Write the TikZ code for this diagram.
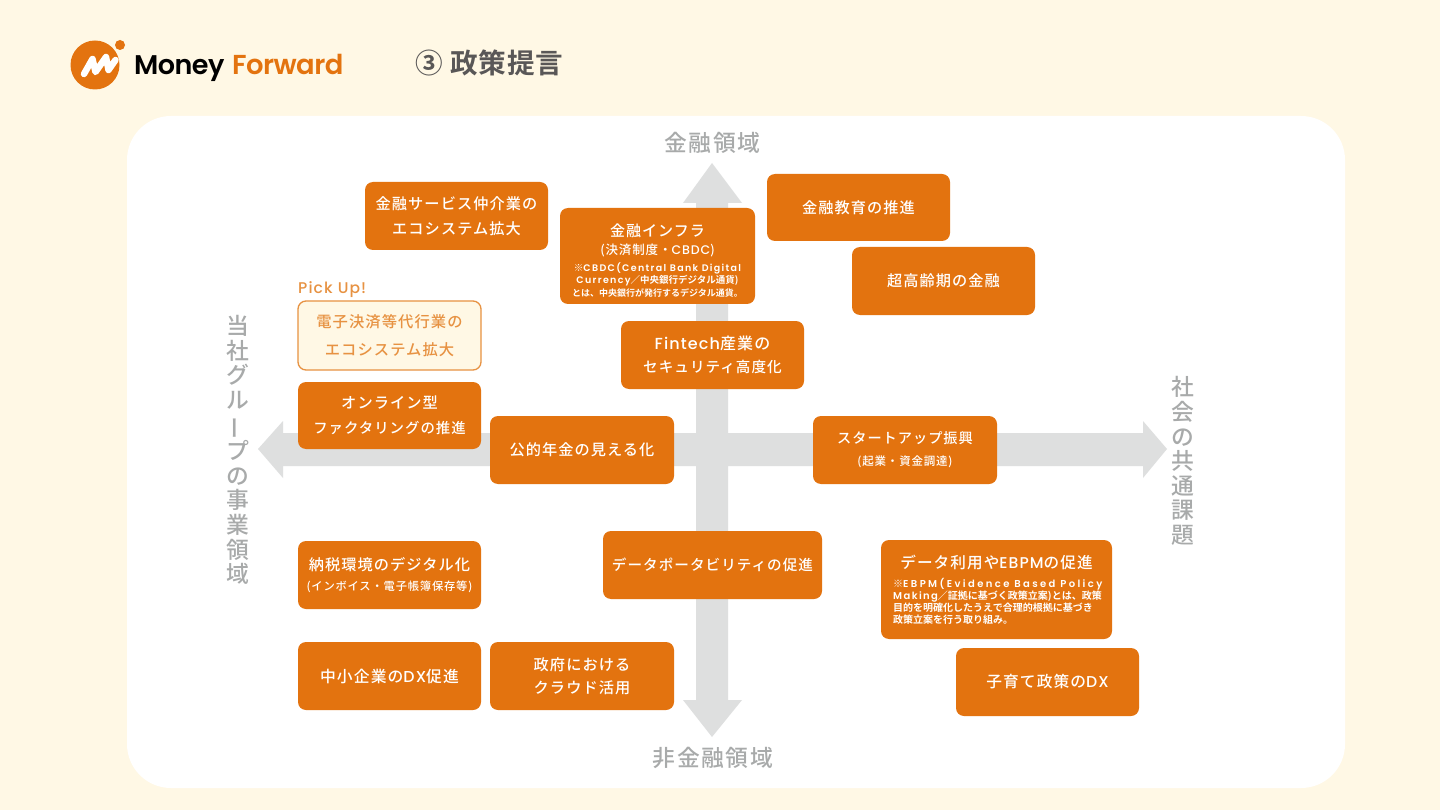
\documentclass[tikz,border=0pt]{standalone}
\usepackage{fontspec}
\usepackage{graphicx}
\newfontfamily\cjk[LetterSpace=7]{Noto Sans CJK JP Medium}
\newfontfamily\cjktight[LetterSpace=0]{Noto Sans CJK JP Bold}
\newfontfamily\cjkhead[LetterSpace=2]{Noto Sans CJK JP Bold}
\newfontfamily\pop[LetterSpace=7]{Poppins Medium}
\newfontfamily\popsm[LetterSpace=14]{Poppins SemiBold}
\newfontfamily\popwide[LetterSpace=24]{Poppins SemiBold}
\newfontfamily\logofont[LetterSpace=-2]{Poppins SemiBold}
\newcommand{\lat}[1]{{\pop #1}}
\newcommand{\latsm}[1]{{\popsm #1}}
\newcommand{\latw}[1]{{\popwide #1}}
\definecolor{bgc}{HTML}{FFF8E5}
\definecolor{org}{HTML}{E3730F}
\definecolor{orgl}{HTML}{E79242}
\definecolor{arr}{HTML}{DEDFDF}
\definecolor{axt}{HTML}{A8AAAA}
\definecolor{ttl}{HTML}{595757}
\newcommand{\fs}[2]{\fontsize{#1}{#2}\selectfont}
\tikzset{
  x=1pt,y=-1pt,
  boxn/.style={draw=none,fill=org,rounded corners=8pt,text=white,align=center,inner sep=0pt,font=\cjk\fs{15.2}{23}},
  pickn/.style={draw=orgl,line width=1.3pt,fill=bgc,rounded corners=8pt,text=orgl,align=center,inner sep=0pt,font=\cjk\fs{15.3}{27}},
  axlab/.style={text=axt,align=center,inner sep=0pt,font=\cjk\fs{22.8}{24.6}},
  arrowshape/.style={fill=arr,draw=none},
  txtn/.style={inner sep=0pt,text=white},
}
% name, x0, y0, x1, y1, style, text
\newcommand{\bx}[7]{\node[#6,minimum width=#4pt-#2pt,minimum height=#5pt-#3pt] (#1) at ({(#2+#4)/2},{(#3+#5)/2}) {#7};}
\begin{document}
\begin{tikzpicture}
\useasboundingbox (0,0) rectangle (1440,810);
\fill[bgc] (0,0) rectangle (1440,810);
\fill[white,rounded corners=44pt] (127,116) rectangle (1345,788);
% axes
\fill[arrowshape] (258,449) -- (283,421) -- (283,433) -- (696,433) -- (696,203) -- (683,203) -- (712,163) -- (742,203) -- (728,203) -- (728,433) -- (1143,433) -- (1143,421) -- (1167,449) -- (1143,478) -- (1143,466) -- (728,466) -- (728,700) -- (742,700) -- (712,737) -- (683,700) -- (696,700) -- (696,466) -- (283,466) -- (283,478) -- cycle;
% logo
\fill[org] (95,65) circle (24.5);
\fill[org] (120,45) circle (5);
\draw[white,line width=6.5pt,line join=round,line cap=round] (84,74) -- (92.5,59) -- (95.5,72) -- (106,57) -- (108.5,70) -- (115.5,60);
\node[inner sep=0pt,anchor=base west,text=black] (lgA) at (134,75) {\logofont\fs{27}{30}Money};
\node[inner sep=0pt,anchor=base west,text=org] (lgB) at (232,75) {\logofont\fs{27.4}{30}Forward};
\node[inner sep=0pt,anchor=west,text=ttl] (title) at (415,63) {\cjkhead\fs{27.6}{30}③\hspace{8pt}政策提言};
% axis labels
\node[axlab] (axT) at (712.5,143) {金融領域};
\node[axlab] (axB) at (713,758) {非金融領域};
\node[axlab] (axL) at (238,450) {当\\社\\グ\\ル\\\rotatebox[origin=c]{90}{ー}\\プ\\の\\事\\業\\領\\域};
\node[axlab] (axR) at (1183,461) {社\\会\\の\\共\\通\\課\\題};
% boxes
\bx{b1}{365}{182}{548}{250}{boxn}{金融サービス仲介業の\\[2pt]エコシステム拡大}
\bx{b2}{560}{208}{755}{304}{boxn}{}
\node[txtn,font=\cjk\fs{15}{16}] (b2a) at (657.5,231) {金融インフラ};
\node[txtn,font=\cjk\fs{12.5}{14}] (b2b) at (657.5,250) {(決済制度・\lat{CBDC})};
\node[txtn,align=center,font=\cjktight\fs{9.5}{12.3}] (b2c) at (657.5,280) {※\latsm{CBDC(Central Bank Digital}\\\latsm{Currency}／中央銀行デジタル通貨)\\\fs{9}{12.3}とは、中央銀行が発行するデジタル通貨。};
\bx{b3}{767}{174}{950}{241}{boxn}{金融教育の推進}
\bx{b4}{852}{247}{1035}{315}{boxn}{超高齢期の金融}
\node[inner sep=0pt,anchor=west,text=orgl,font=\pop\fs{15.5}{16}] (pick) at (298,289.5) {Pick Up!};
\bx{b5}{298}{301}{481}{370}{pickn}{電子決済等代行業の\\[1pt]エコシステム拡大}
\bx{b6}{621}{321}{804}{389}{boxn}{\fs{14.6}{23}\fs{16}{23}\lat{Fintech}産業の\\\fs{14.6}{23}セキュリティ高度化}
\bx{b7}{298}{382}{481}{449}{boxn}{\fs{15.2}{23}オンライン型\\[2pt]\fs{14.4}{23}ファクタリングの推進}
\bx{b8}{490}{416}{674}{484}{boxn}{公的年金の見える化}
\bx{b9}{813}{416}{997}{484}{boxn}{\fs{14.2}{23}スタートアップ振興\\[-1pt]{\fs{11.5}{14}(起業・資金調達)}}
\bx{b10}{298}{541}{481}{609}{boxn}{納税環境のデジタル化\\[-2.5pt]{\fs{11.3}{14}(インボイス・電子帳簿保存等)}}
\bx{b11}{603}{531}{822}{599}{boxn}{\fs{14.6}{23}データポータビリティの促進}
\bx{b12}{881}{540}{1112}{639}{boxn}{}
\node[txtn,font=\cjk\fs{15.6}{16}] (b12a) at (996.5,562) {データ利用や\lat{EBPM}の促進};
\node[txtn,align=left,anchor=north west,font=\cjktight\fs{10}{12}] (b12b) at (893,578) {※\latw{EBPM(Evidence Based Policy}\\\latsm{Making}／証拠に基づく政策立案)とは、政策\\目的を明確化したうえで合理的根拠に基づき\\政策立案を行う取り組み。};
\bx{b13}{298}{642}{481}{710}{boxn}{\fs{15.8}{23}中小企業の\lat{DX}促進}
\bx{b14}{490}{642}{674}{710}{boxn}{政府における\\クラウド活用}
\bx{b15}{956}{648}{1139}{716}{boxn}{\fs{15.7}{23}子育て政策の\lat{DX}}
\end{tikzpicture}
\end{document}
